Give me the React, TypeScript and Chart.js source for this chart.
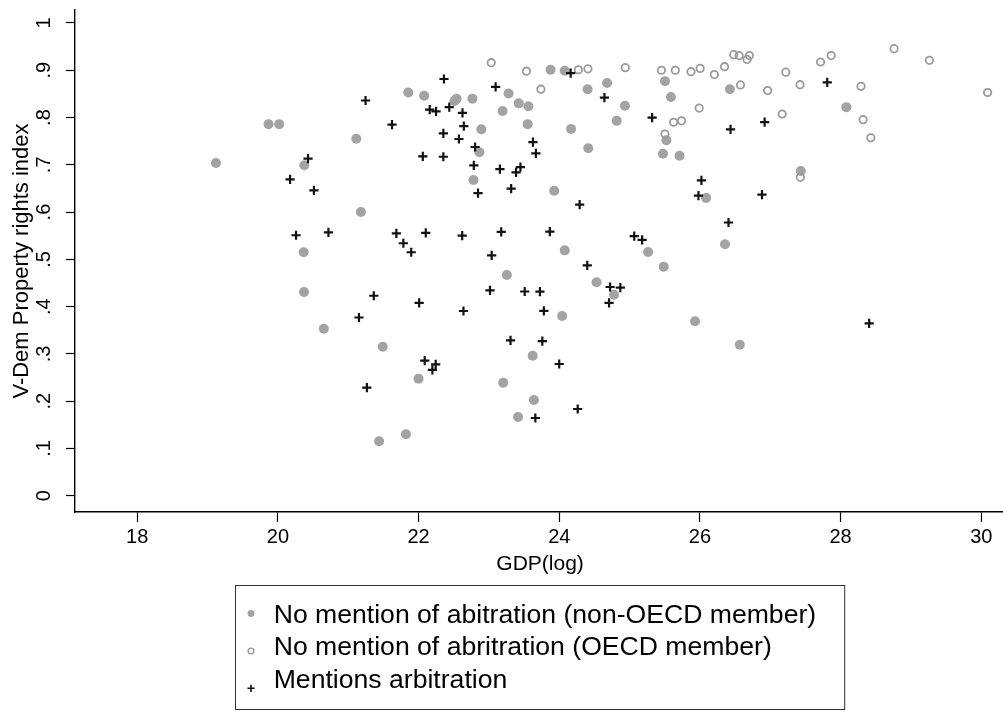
import React, { useEffect, useRef } from "react";
import { Chart, registerables } from "chart.js";

Chart.register(...registerables);

// ---- Data ----
const nonOecdX = [
  19.867, 20.018, 21.114, 19.119, 20.375, 21.18, 20.366, 20.371, 20.653, 21.49,
  21.438, 23.876, 24.078, 21.853, 22.079, 24.403, 24.68, 25.503, 25.588, 22.51,
  22.54, 22.765, 23.279, 23.424, 23.561, 23.194, 24.934, 22.892, 23.551, 24.168,
  24.817, 25.523, 22.864, 24.412, 25.475, 25.71, 22.78, 23.928, 24.078, 25.263,
  25.485, 23.255, 24.53, 24.779, 24.04, 25.93, 23.622, 21.999, 23.203, 23.64,
  23.414, 21.82, 26.567, 26.426, 28.082, 26.087, 27.433, 26.356,
];
const nonOecdY = [
  0.786, 0.786, 0.755, 0.704, 0.699, 0.6, 0.515, 0.431, 0.353, 0.315,
  0.115, 0.901, 0.899, 0.853, 0.846, 0.86, 0.873, 0.877, 0.8435, 0.835,
  0.84, 0.84, 0.851, 0.83, 0.824, 0.814, 0.825, 0.775, 0.786, 0.776,
  0.793, 0.752, 0.7265, 0.735, 0.7235, 0.719, 0.668, 0.645, 0.519, 0.5155,
  0.4845, 0.467, 0.4514, 0.425, 0.38, 0.369, 0.296, 0.2476, 0.239, 0.2025,
  0.1665, 0.13, 0.3195, 0.86, 0.822, 0.63, 0.687, 0.532,
];

const oecdX = [
  23.033, 23.533, 24.271, 24.408, 24.939, 25.452, 25.65, 25.873, 23.739, 25.503,
  25.626, 25.739, 26.003, 26.205, 26.35, 26.48, 26.557, 26.703, 26.67, 26.576,
  26.962, 27.221, 27.423, 27.715, 27.866, 28.29, 28.76, 29.263, 30.09, 25.989,
  27.169, 28.32, 28.43, 27.428,
];
const oecdY = [
  0.916, 0.898, 0.901, 0.903, 0.9055, 0.9, 0.9, 0.897, 0.86, 0.765,
  0.79, 0.793, 0.904, 0.891, 0.9076, 0.933, 0.931, 0.931, 0.923, 0.869,
  0.857, 0.896, 0.8695, 0.9175, 0.931, 0.866, 0.9457, 0.921, 0.853, 0.82,
  0.8075, 0.7955, 0.757, 0.6735,
];

const arbX = [
  21.246, 20.428, 20.173, 20.512, 20.258, 20.718, 21.363, 21.152, 21.265, 22.361,
  23.095, 24.162, 24.642, 22.158, 22.248, 22.436, 22.624, 21.622, 22.643, 25.32,
  22.352, 22.573, 22.803, 23.626, 23.668, 22.06, 22.352, 22.785, 23.156, 23.448,
  23.386, 22.845, 23.316, 24.29, 21.684, 21.783, 21.895, 22.102, 22.62, 23.175,
  23.866, 23.039, 25.066, 25.178, 24.398, 24.723, 24.868, 24.708, 23.015, 23.509,
  23.725, 23.781, 22.008, 22.638, 23.307, 23.759, 22.087, 22.243, 22.196, 23.999,
  24.262, 23.66, 28.406, 27.81, 26.92, 26.435, 26.021, 25.979, 26.882, 26.406,
];
const arbY = [
  0.836, 0.713, 0.669, 0.646, 0.551, 0.557, 0.423, 0.377, 0.2285, 0.8815,
  0.865, 0.894, 0.842, 0.8166, 0.813, 0.822, 0.81, 0.785, 0.782, 0.8,
  0.7666, 0.7546, 0.7377, 0.748, 0.724, 0.718, 0.717, 0.699, 0.691, 0.695,
  0.684, 0.64, 0.6495, 0.6157, 0.555, 0.534, 0.515, 0.556, 0.55, 0.558,
  0.5585, 0.5085, 0.549, 0.541, 0.4874, 0.4415, 0.44, 0.408, 0.4345, 0.432,
  0.4316, 0.391, 0.408, 0.3907, 0.3287, 0.327, 0.2856, 0.278, 0.266, 0.2786,
  0.1834, 0.1644, 0.3647, 0.8745, 0.7905, 0.775, 0.667, 0.6347, 0.637, 0.578,
];

const xTicks = [18, 20, 22, 24, 26, 28, 30];
const yTicks = [0, 0.1, 0.2, 0.3, 0.4, 0.5, 0.6, 0.7, 0.8, 0.9, 1];
const yTickLabels = ["0", ".1", ".2", ".3", ".4", ".5", ".6", ".7", ".8", ".9", "1"];
const xTitle = "GDP(log)";
const yTitle = "V-Dem Property rights index";
const legendLabels = [
  "No mention of abitration (non-OECD member)",
  "No mention of abritration (OECD member)",
  "Mentions arbitration",
];

const FONT = '"Liberation Sans", Arial, Helvetica, sans-serif';
const FILL_GREY = "#a3a3a3";
const RING_GREY = "#9a9a9a";
const PLUS_BLACK = "#111111";

const toPoints = (xs: number[], ys: number[]) => xs.map((x, i) => ({ x, y: ys[i] }));

const textPlugin = {
  id: "stataText",
  afterDraw(chart: any) {
    const ctx = chart.ctx as CanvasRenderingContext2D;
    const ys = chart.scales.y;
    const area = chart.chartArea;
    const cx = (area.left + area.right) / 2;
    ctx.save();
    ctx.fillStyle = "#000";

    // y tick labels (rotated, Stata style)
    ctx.font = `20px ${FONT}`;
    ctx.textAlign = "center";
    ctx.textBaseline = "middle";
    yTicks.forEach((v, i) => {
      const py = ys.getPixelForValue(v);
      ctx.save();
      ctx.translate(44, py);
      ctx.rotate(-Math.PI / 2);
      ctx.fillText(yTickLabels[i], 0, 0);
      ctx.restore();
    });

    // y title
    ctx.font = `22px ${FONT}`;
    ctx.save();
    ctx.translate(22, (area.top + area.bottom) / 2);
    ctx.rotate(-Math.PI / 2);
    ctx.fillText(yTitle, 0, 0);
    ctx.restore();

    // x title
    ctx.font = `21px ${FONT}`;
    ctx.textBaseline = "alphabetic";
    ctx.fillText(xTitle, cx, 570);

    // legend box
    const boxLeft = 235.5;
    const boxRight = 2 * cx - boxLeft;
    const boxTop = 585.5;
    const boxBottom = 709.5;
    ctx.strokeStyle = "#333";
    ctx.lineWidth = 1;
    ctx.strokeRect(boxLeft, boxTop, boxRight - boxLeft, boxBottom - boxTop);

    const baselines = [623.3, 655.3, 687.7];
    ctx.font = `26.6px ${FONT}`;
    ctx.textAlign = "left";
    legendLabels.forEach((t, i) => {
      ctx.fillText(t, 273.7, baselines[i]);
    });
    // symbols
    const sx = 251;
    ctx.fillStyle = FILL_GREY;
    ctx.beginPath();
    ctx.arc(sx, 613.5, 3.4, 0, Math.PI * 2);
    ctx.fill();
    ctx.strokeStyle = RING_GREY;
    ctx.lineWidth = 1.4;
    ctx.beginPath();
    ctx.arc(sx, 651, 2.9, 0, Math.PI * 2);
    ctx.stroke();
    ctx.strokeStyle = PLUS_BLACK;
    ctx.lineWidth = 1.6;
    ctx.beginPath();
    ctx.moveTo(sx - 3.6, 688.3);
    ctx.lineTo(sx + 3.6, 688.3);
    ctx.moveTo(sx, 684.7);
    ctx.lineTo(sx, 691.9);
    ctx.stroke();
    ctx.restore();
  },
};

export default function App() {
  const ref = useRef<HTMLCanvasElement | null>(null);

  useEffect(() => {
    document.body.style.margin = "0";
    const canvas = ref.current;
    if (!canvas) return;
    const chart = new Chart(canvas, {
      type: "scatter",
      data: {
        datasets: [
          {
            label: legendLabels[0],
            data: toPoints(nonOecdX, nonOecdY),
            pointStyle: "circle",
            pointRadius: 5,
            pointBackgroundColor: FILL_GREY,
            pointBorderWidth: 0,
            order: 3,
          },
          {
            label: legendLabels[1],
            data: toPoints(oecdX, oecdY),
            pointStyle: "circle",
            pointRadius: 3.7,
            pointBackgroundColor: "rgba(0,0,0,0)",
            pointBorderColor: RING_GREY,
            pointBorderWidth: 1.8,
            order: 2,
          },
          {
            label: legendLabels[2],
            data: toPoints(arbX, arbY),
            pointStyle: "cross",
            pointRadius: 4.6,
            pointBorderColor: PLUS_BLACK,
            pointBorderWidth: 2.2,
            order: 1,
          },
        ],
      },
      options: {
        animation: false,
        responsive: false,
        devicePixelRatio: 1,
        events: [],
        layout: { padding: { top: 10, left: 0, right: 0, bottom: 0 } },
        plugins: {
          legend: { display: false },
          tooltip: { enabled: false },
          title: { display: false },
        },
        scales: {
          x: {
            type: "linear",
            min: 17.115,
            max: 30.34,
            afterFit: (s: any) => {
              s.height = 200;
            },
            afterBuildTicks: (s: any) => {
              s.ticks = xTicks.map((v) => ({ value: v }));
            },
            grid: {
              drawOnChartArea: false,
              drawTicks: true,
              tickLength: 10,
              tickColor: "#000",
              tickWidth: 1.2,
            },
            border: { display: true, color: "#000", width: 1.4 },
            ticks: {
              color: "#000",
              font: { family: FONT, size: 20 },
              padding: 3,
              maxRotation: 0,
              autoSkip: false,
            },
          },
          y: {
            type: "linear",
            min: -0.0345,
            max: 1.0275,
            afterFit: (s: any) => {
              s.width = 75;
            },
            afterBuildTicks: (s: any) => {
              s.ticks = yTicks.map((v) => ({ value: v }));
            },
            grid: {
              drawOnChartArea: false,
              drawTicks: true,
              tickLength: 9,
              tickColor: "#000",
              tickWidth: 1.2,
            },
            border: { display: true, color: "#000", width: 1.4 },
            ticks: { display: false },
          },
        },
      },
      plugins: [textPlugin],
    });
    return () => chart.destroy();
  }, []);

  return (
    <div style={{ width: 1003, height: 712, overflow: "hidden", background: "#fff", position: "relative" }}>
      <canvas ref={ref} width={1012} height={712} style={{ width: 1012, height: 712, display: "block" }} />
    </div>
  );
}
